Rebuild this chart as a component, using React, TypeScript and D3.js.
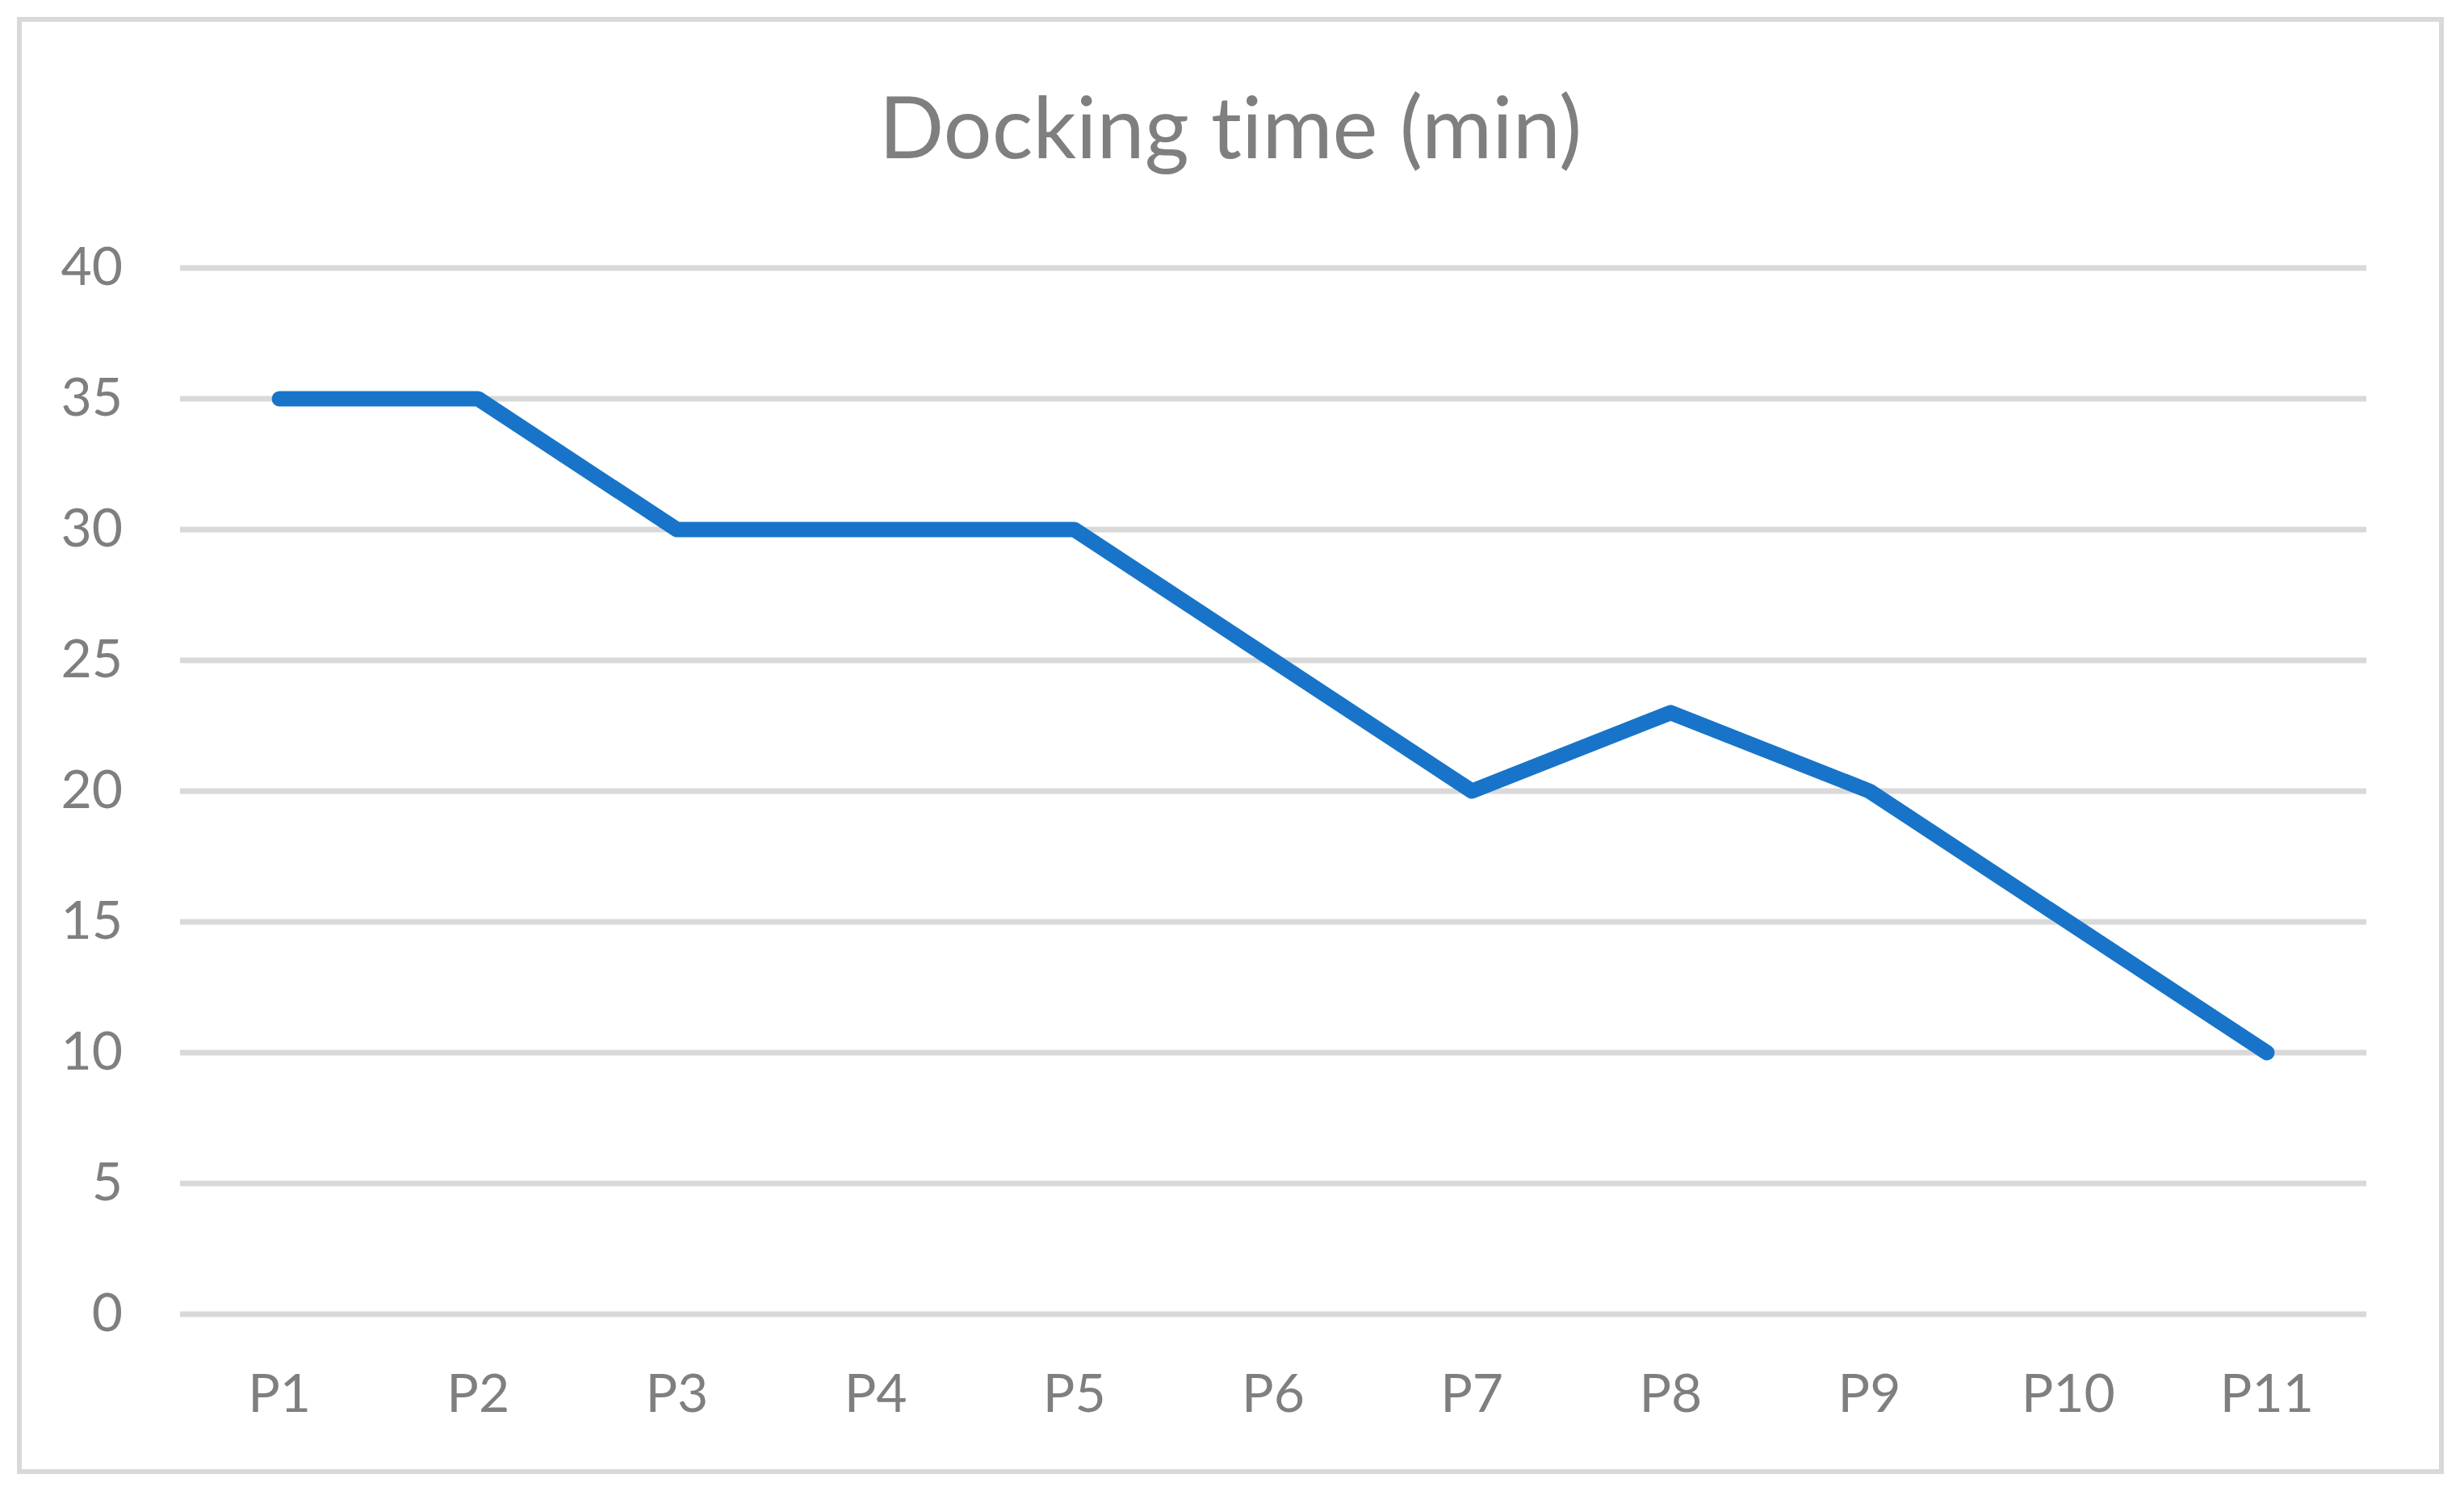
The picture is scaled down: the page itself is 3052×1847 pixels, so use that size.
import React, { useRef, useEffect } from "react";
import * as d3 from "d3";

const categories = ["P1", "P2", "P3", "P4", "P5", "P6", "P7", "P8", "P9", "P10", "P11"];
const dockingTime = [35, 35, 30, 30, 30, 25, 20, 23, 20, 15, 10];
const yTicks = [0, 5, 10, 15, 20, 25, 30, 35, 40];

const WIDTH = 3052;
const HEIGHT = 1847;
const FONT = "Lato, 'Open Sans', sans-serif";

const App = () => {
  const svgRef = useRef(null);

  useEffect(() => {
    document.body.style.margin = "0";
    const svg = d3.select(svgRef.current);
    svg.selectAll("*").remove();

    // plot area
    const margin = { top: 332, right: 121, bottom: 219, left: 223 };
    const innerWidth = WIDTH - margin.left - margin.right;
    const innerHeight = HEIGHT - margin.top - margin.bottom;

    // chart border
    svg
      .append("rect")
      .attr("x", 24)
      .attr("y", 24)
      .attr("width", 3000)
      .attr("height", 1799)
      .attr("fill", "#fff")
      .attr("stroke", "#d9d9d9")
      .attr("stroke-width", 6);

    const x = d3.scaleBand().domain(categories).range([0, innerWidth]);
    const y = d3.scaleLinear().domain([0, 40]).range([innerHeight, 0]);

    const g = svg.append("g").attr("transform", `translate(${margin.left},${margin.top})`);

    // gridlines
    g.selectAll(".grid")
      .data(yTicks)
      .enter()
      .append("line")
      .attr("x1", 0)
      .attr("x2", innerWidth)
      .attr("y1", (d) => y(d))
      .attr("y2", (d) => y(d))
      .attr("stroke", "#d9d9d9")
      .attr("stroke-width", 7);

    // y tick labels
    g.selectAll(".ylabel")
      .data(yTicks)
      .enter()
      .append("text")
      .attr("x", -71)
      .attr("y", (d) => y(d) + 21)
      .attr("text-anchor", "end")
      .attr("font-family", FONT)
      .attr("font-size", 66)
      .attr("fill", "#7f7f7f")
      .text((d) => d);

    // x tick labels
    g.selectAll(".xlabel")
      .data(categories)
      .enter()
      .append("text")
      .attr("x", (d) => x(d) + x.bandwidth() / 2)
      .attr("y", innerHeight + 121)
      .attr("text-anchor", "middle")
      .attr("font-family", FONT)
      .attr("font-size", 66)
      .attr("fill", "#7f7f7f")
      .text((d) => d);

    const line = d3
      .line()
      .x((d, i) => x(categories[i]) + x.bandwidth() / 2)
      .y((d) => y(d));

    g.append("path")
      .datum(dockingTime)
      .attr("d", line)
      .attr("fill", "none")
      .attr("stroke", "#1874c9")
      .attr("stroke-width", 19)
      .attr("stroke-linejoin", "round")
      .attr("stroke-linecap", "round");

    // title
    svg
      .append("text")
      .attr("x", 1524)
      .attr("y", 196)
      .attr("text-anchor", "middle")
      .attr("font-family", FONT)
      .attr("font-size", 106)
      .attr("fill", "#7f7f7f")
      .style("font-variant-ligatures", "none")
      .text("Docking time (min)");
  }, []);

  return <svg ref={svgRef} width={WIDTH} height={HEIGHT} style={{ display: "block" }} />;
};

export default App;
